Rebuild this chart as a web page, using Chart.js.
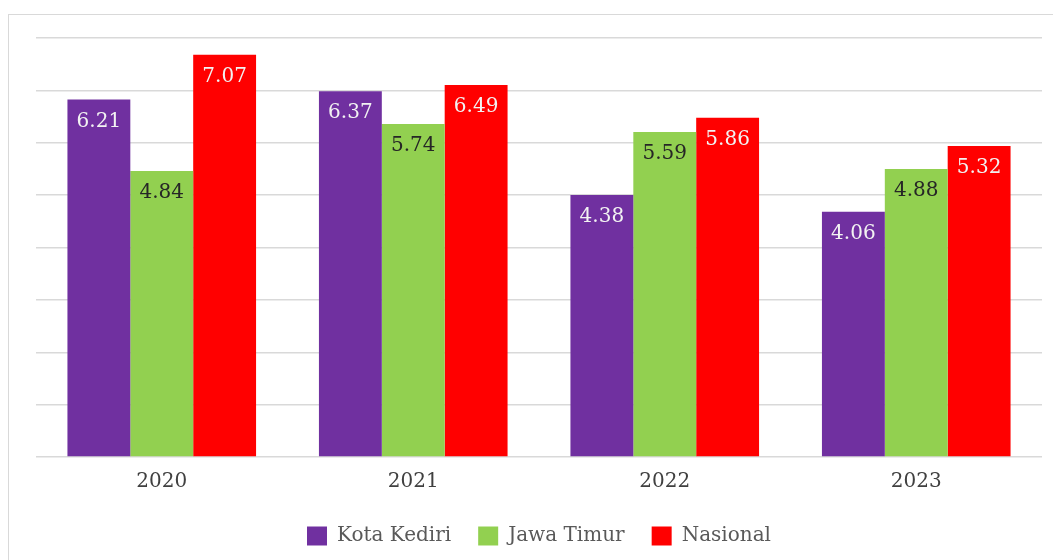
<!DOCTYPE html>
<html lang="id">
<head>
  <meta charset="UTF-8" />
  <title>Kota Kediri vs Jawa Timur vs Nasional</title>
  <script src="https://cdn.jsdelivr.net/npm/chart.js"></script>
  <style>
    * { box-sizing: border-box; }
    html, body {
      margin: 0;
      padding: 0;
      background: #ffffff;
      overflow: hidden;
    }
    .frame {
      position: absolute;
      left: 8px;
      top: 14px;
      width: 1100px;
      height: 600px;
      border: 1px solid #d9d9d9;
    }
    .wrap {
      position: absolute;
      left: 0;
      top: 0;
      width: 1053px;
      height: 560px;
    }
  </style>
</head>
<body>
  <div class="frame"></div>
  <div class="wrap"><canvas id="chart"></canvas></div>

<script>
const years = ["2020", "2021", "2022", "2023"];
const kotaKediri = [6.21, 6.37, 4.38, 4.06];
const jawaTimur = [4.84, 5.74, 5.59, 4.88];
const nasional = [7.07, 6.49, 5.86, 5.32];

// axis range (8 equal bands)
const yMin = -0.64;
const yMax = 7.39;

const FONT = "'DejaVu Serif', Cambria, serif";

const barLabels = {
  id: 'barLabels',
  afterDatasetsDraw(chart) {
    const ctx = chart.ctx;
    ctx.save();
    ctx.font = "20px " + FONT;
    ctx.textAlign = 'center';
    ctx.textBaseline = 'middle';
    chart.data.datasets.forEach((ds, i) => {
      const meta = chart.getDatasetMeta(i);
      meta.data.forEach((bar, j) => {
        ctx.fillStyle = ds.labelColor;
        ctx.fillText(ds.data[j].toFixed(2), bar.x, bar.y + 22);
      });
    });
    ctx.restore();
  }
};

function makeSet(label, data, color, labelColor) {
  return {
    label: label,
    data: data,
    backgroundColor: color,
    borderWidth: 0,
    base: yMin,
    labelColor: labelColor,
    categoryPercentage: 0.75,
    barPercentage: 1.0
  };
}

new Chart(document.getElementById('chart'), {
  type: 'bar',
  data: {
    labels: years,
    datasets: [
      makeSet('Kota Kediri', kotaKediri, '#7030a0', '#f2f2f2'),
      makeSet('Jawa Timur', jawaTimur, '#92d050', '#262626'),
      makeSet('Nasional', nasional, '#ff0000', '#f2f2f2')
    ]
  },
  options: {
    responsive: true,
    maintainAspectRatio: false,
    animation: false,
    layout: { padding: { left: 36, right: 11, top: 38, bottom: 4 } },
    plugins: {
      tooltip: { enabled: false },
      legend: {
        position: 'bottom',
        labels: {
          font: { family: FONT, size: 20 },
          color: '#595959',
          boxWidth: 20,
          boxHeight: 19,
          padding: 27
        }
      }
    },
    scales: {
      x: {
        grid: { display: false },
        border: { display: false },
        ticks: {
          font: { family: FONT, size: 20 },
          color: '#404040',
          padding: 5
        }
      },
      y: {
        min: yMin,
        max: yMax,
        afterBuildTicks(scale) {
          const step = (yMax - yMin) / 8;
          const t = [];
          for (let k = 0; k <= 8; k++) t.push({ value: yMin + k * step });
          scale.ticks = t;
        },
        afterFit(scale) { scale.width = 0; },
        ticks: { display: false },
        border: { display: false },
        grid: { color: '#d9d9d9', lineWidth: 1.5, drawTicks: false }
      }
    }
  },
  plugins: [barLabels]
});
</script>
</body>
</html>
